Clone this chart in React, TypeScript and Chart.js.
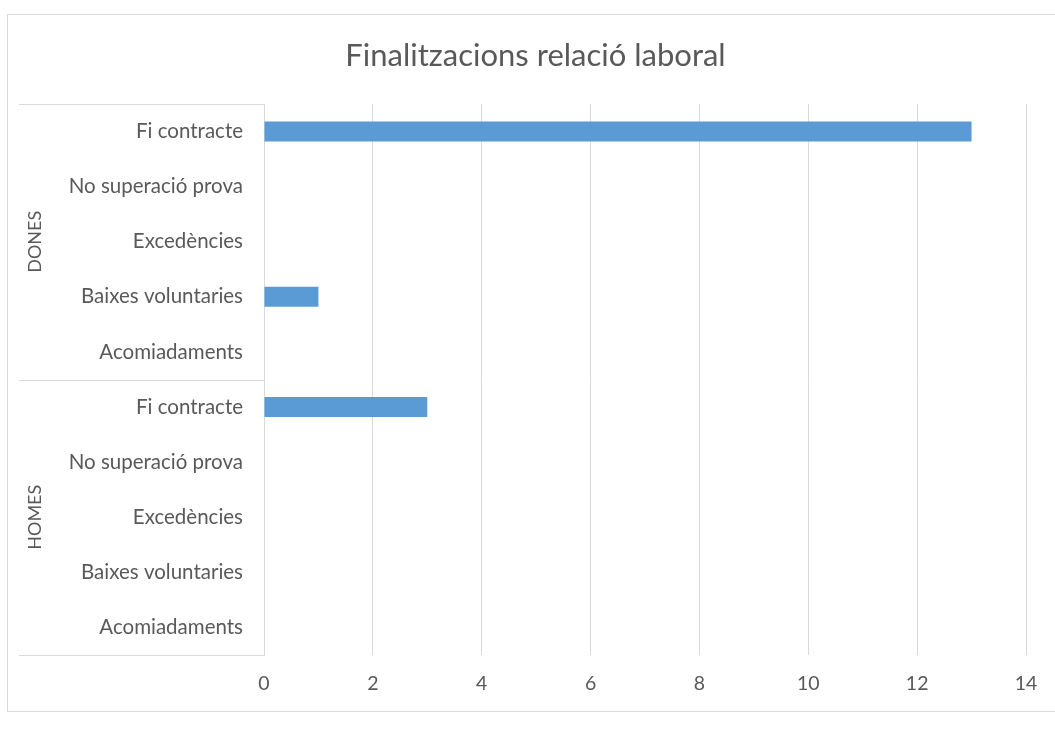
import React, { useEffect, useRef } from "react";
import { Chart, registerables } from "chart.js";

Chart.register(...registerables);

const chartTitle = "Finalitzacions relació laboral";
const groups = ["DONES", "HOMES"];
const categories = [
  "Fi contracte",
  "No superació prova",
  "Excedències",
  "Baixes voluntaries",
  "Acomiadaments",
];
const donesValues = [13, 0, 0, 1, 0];
const homesValues = [3, 0, 0, 0, 0];
const xMin = 0;
const xMax = 14;
const xStep = 2;

const FONT = "Lato, 'Open Sans', sans-serif";
const TEXT = "#595959";
const LINE = "#d9d9d9";
const BAR = "#5b9bd5";

const frameAndGroups = {
  id: "frameAndGroups",
  beforeDraw(chart: any) {
    const ctx = chart.ctx;
    ctx.save();
    ctx.fillStyle = "#ffffff";
    ctx.fillRect(0, 0, chart.width, chart.height);
    ctx.strokeStyle = LINE;
    ctx.lineWidth = 1;
    ctx.strokeRect(7.5, 14.5, chart.width + 10, 697);
    // title
    ctx.fillStyle = TEXT;
    ctx.font = `31px ${FONT}`;
    ctx.textAlign = "center";
    ctx.textBaseline = "alphabetic";
    ctx.fillText(chartTitle, 535.5, 66);
    ctx.restore();
  },
  afterDraw(chart: any) {
    const ctx = chart.ctx;
    const yScale = chart.scales.y;
    const area = chart.chartArea;
    const n = categories.length;
    ctx.save();
    ctx.strokeStyle = LINE;
    ctx.lineWidth = 1;
    const left = 19;
    for (let g = 0; g <= groups.length; g++) {
      const y = Math.round(yScale.getPixelForValue(g * n - 0.5)) + 0.5;
      ctx.beginPath();
      ctx.moveTo(left, y);
      ctx.lineTo(area.left, y);
      ctx.stroke();
    }
    ctx.fillStyle = TEXT;
    ctx.font = `18px ${FONT}`;
    ctx.textAlign = "center";
    ctx.textBaseline = "middle";
    groups.forEach((g, gi) => {
      const y0 = yScale.getPixelForValue(gi * n - 0.5);
      const y1 = yScale.getPixelForValue(gi * n + n - 0.5);
      ctx.save();
      ctx.translate(35, (y0 + y1) / 2);
      ctx.rotate(-Math.PI / 2);
      ctx.fillText(g, 0, 0);
      ctx.restore();
    });
    ctx.restore();
  },
};

export default function App() {
  const ref = useRef<HTMLCanvasElement | null>(null);
  useEffect(() => {
    if (!ref.current) return;
    const labels = groups.flatMap(() => categories);
    const values = [...donesValues, ...homesValues];
    const chart = new Chart(ref.current, {
      type: "bar",
      data: {
        labels,
        datasets: [
          {
            data: values,
            backgroundColor: BAR,
            borderWidth: 0,
            categoryPercentage: 1,
            barPercentage: 0.363,
          },
        ],
      },
      options: {
        indexAxis: "y",
        animation: false,
        responsive: true,
        maintainAspectRatio: false,
        layout: { padding: { top: 104, left: 0, right: 29, bottom: 0 } },
        plugins: {
          legend: { display: false },
          tooltip: { enabled: false },
          title: { display: false },
        },
        scales: {
          x: {
            min: xMin,
            max: xMax,
            ticks: {
              stepSize: xStep,
              color: TEXT,
              font: { family: FONT, size: 19.5 },
              padding: 17,
            },
            grid: { color: LINE, drawTicks: false, lineWidth: 1 },
            border: { display: false },
            afterFit(scale: any) {
              scale.height = 81;
            },
          },
          y: {
            ticks: {
              color: TEXT,
              font: { family: FONT, size: 20.5 },
              padding: 21,
            },
            grid: { display: false, drawTicks: false },
            border: { display: true, color: LINE, width: 1 },
            afterFit(scale: any) {
              scale.width = 264;
            },
          },
        },
      },
      plugins: [frameAndGroups],
    });
    return () => chart.destroy();
  }, []);
  return (
    <div style={{ position: "absolute", left: 0, top: 0, width: 1055, height: 736 }}>
      <canvas ref={ref} />
    </div>
  );
}
